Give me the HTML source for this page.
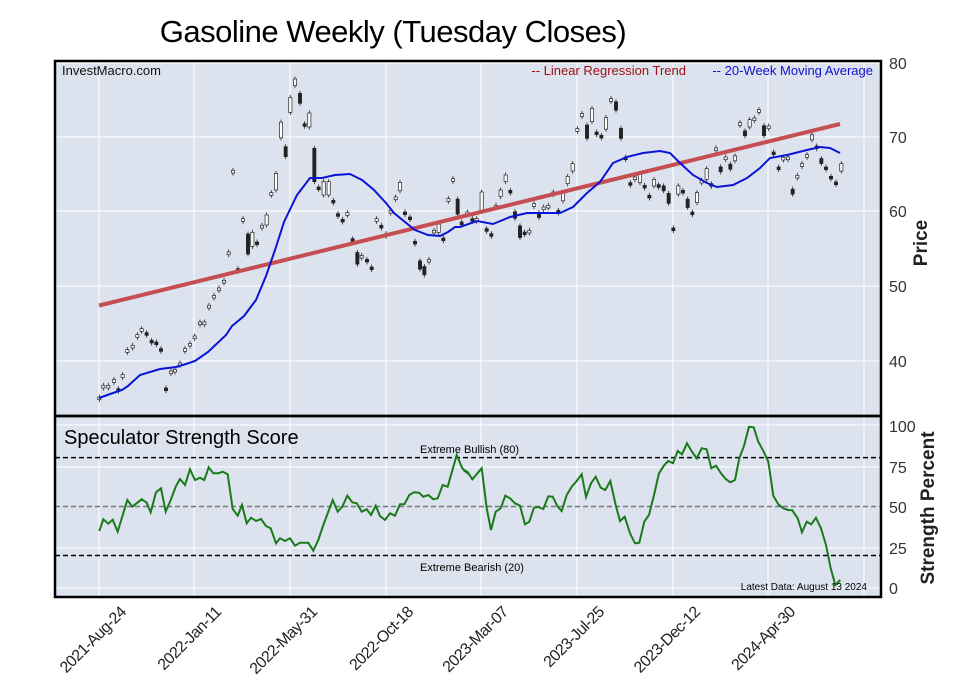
<!DOCTYPE html>
<html><head><meta charset="utf-8">
<style>
body{margin:0;background:#fff;width:957px;height:694px;overflow:hidden;font-family:"Liberation Sans",Arial,sans-serif;}
</style></head><body>
<svg id="s" width="957" height="694" xmlns="http://www.w3.org/2000/svg" font-family="Liberation Sans, Arial, sans-serif">
<rect x="55" y="61" width="826" height="536" fill="#dde3ee"/>
<g id="grid" stroke="#fff" stroke-width="1"></g>
<g id="cand"></g>
<line x1="99" y1="305.5" x2="840" y2="124" stroke="#c44e52" stroke-width="4"/>
<polyline id="ma" fill="none" stroke="#0a14d6" stroke-width="2"/>
<line x1="55" y1="457.6" x2="881" y2="457.6" stroke="#000" stroke-width="1.5" stroke-dasharray="5,3"/>
<line x1="55" y1="506.5" x2="881" y2="506.5" stroke="#777" stroke-width="1.5" stroke-dasharray="5,3"/>
<line x1="55" y1="555.5" x2="881" y2="555.5" stroke="#000" stroke-width="1.5" stroke-dasharray="5,3"/>
<polyline id="gr" fill="none" stroke="#1a7a1a" stroke-width="2"/>
<rect x="55" y="61" width="826" height="355" fill="none" stroke="#000" stroke-width="2.5"/>
<rect x="55" y="416" width="826" height="181" fill="none" stroke="#000" stroke-width="2.5"/>
<text x="393" y="42" font-size="31" text-anchor="middle" fill="#000" letter-spacing="-0.5">Gasoline Weekly (Tuesday Closes)</text>
<text x="62" y="75" font-size="13" fill="#111">InvestMacro.com</text>
<text x="686" y="75" font-size="13" fill="#a01010" text-anchor="end">-- Linear Regression Trend</text>
<text x="873" y="75" font-size="13" fill="#1010d0" text-anchor="end">-- 20-Week Moving Average</text>
<text x="64" y="444" font-size="20" fill="#000">Speculator Strength Score</text>
<text x="420" y="453" font-size="11" fill="#000">Extreme Bullish (80)</text>
<text x="420" y="571" font-size="11" fill="#000">Extreme Bearish (20)</text>
<text x="867" y="590" font-size="10" fill="#000" text-anchor="end">Latest Data: August 13 2024</text>
<g font-size="16" fill="#333">
<text x="889" y="69">80</text><text x="889" y="143">70</text><text x="889" y="217">60</text><text x="889" y="292">50</text><text x="889" y="367">40</text>
<text x="889" y="432">100</text><text x="889" y="473">75</text><text x="889" y="513">50</text><text x="889" y="554">25</text><text x="889" y="594">0</text>
</g>
<text transform="translate(927,243) rotate(-90)" font-size="19" font-weight="bold" text-anchor="middle" fill="#222">Price</text>
<text transform="translate(934,508) rotate(-90)" font-size="19" font-weight="bold" text-anchor="middle" fill="#222">Strength Percent</text>
<g id="xl" font-size="16" fill="#222" letter-spacing="-0.6"></g>
</svg>
<script>
var NS="http://www.w3.org/2000/svg";
function el(p,t,a){var e=document.createElementNS(NS,t);for(var k in a)e.setAttribute(k,a[k]);p.appendChild(e);return e;}
var g=document.getElementById('grid');
var xs=[99,194,290,386,481,577,673,768,864];
xs.forEach(function(x){el(g,'line',{x1:x,y1:61,x2:x,y2:597});});
[63,137,211,286,361].forEach(function(y){el(g,'line',{x1:55,y1:y,x2:881,y2:y});});
[425,467,548,588].forEach(function(y){el(g,'line',{x1:55,y1:y,x2:881,y2:y});});
var labs=["2021-Aug-24","2022-Jan-11","2022-May-31","2022-Oct-18","2023-Mar-07","2023-Jul-25","2023-Dec-12","2024-Apr-30"];
var xl=document.getElementById('xl');
labs.forEach(function(l,i){var t=el(xl,'text',{transform:'translate('+(xs[i]+28)+',613) rotate(-45)','text-anchor':'end'});t.textContent=l;});
var c1=[[178,1045],[190,1010],[205,1010],[222,993],[235,1020],[248,978],[262,903],[278,890],[292,858],[305,840],[320,852],[335,875],[349,880],[363,900],[378,1018],[393,967],[405,962],[420,943],[435,900],[450,884],[464,862],[480,820],[493,820],[507,770],[522,740],[537,718],[552,695],[566,610],[579,365],[594,660],[609,510],[624,582,60],[637,568,42],[651,580],[666,530],[680,510,30],[694,432],[708,395,50],[723,240,47],[737,305,30],[751,165,45],[765,97,20],[780,145,30],[794,225],[808,210,42],[823,345,100],[836,415],[851,415,40],[866,415,40],[880,455],[894,495],[908,512],[922,492],[938,570],[952,625,35],[965,620],[981,632],[995,655],[1010,510],[1024,530],[1038,555],[1052,485],[1067,445],[1080,410,25],[1095,490],[1110,505],[1125,578],[1140,645,25],[1153,662,25],[1167,632],[1182,545],[1196,535,25],[1210,568],[1225,450],[1239,390],[1253,470,45]];
var c2=[[5,520],[22,490],[37,510],[50,510],[65,455,58],[80,540],[94,555],[108,470],[122,430,20],[137,385,20],[151,425],[165,495,20],[180,545,35],[194,550],[208,545],[222,465],[237,495,15],[251,475],[265,470],[280,430],[295,485],[309,440,25],[323,390,22],[338,352,22],[352,240],[366,195],[381,245,40],[396,195,40],[410,250],[424,260],[438,220,35],[453,150],[468,168,25],[483,250,30],[497,325],[511,402],[525,385],[540,385,25],[554,410],[568,440],[582,398,20],[596,408],[611,415,15],[626,445,30],[640,538],[655,420,25],[669,425],[683,460,25],[697,490],[711,443,30],[725,395],[740,372,32],[754,405],[768,298],[782,358,15],[797,325],[811,350,15],[825,325,15],[840,222],[855,250,15],[869,220,22],[883,208],[897,183],[912,242,30],[926,232],[941,310],[956,355],[970,326],[984,325],[998,425,15],[1012,380],[1026,345],[1041,318],[1056,262,15],[1070,292],[1084,333,15],[1098,355],[1113,383],[1128,400],[1144,352,22]];
var pts=[];
c1.forEach(function(p){pts.push([40+p[0]/3,50+p[1]/3,(p[2]||8)/3]);});
c2.forEach(function(p){pts.push([460+p[0]/3,50+p[1]/3,(p[2]||8)/3]);});
var cg=document.getElementById('cand');
for(var i=0;i<pts.length;i++){var p=pts[i];var prev=i?pts[i-1][1]:p[1];var black=p[1]>prev; var h=Math.max(2.5,p[2]);
el(cg,'line',{x1:p[0],y1:p[1]-h/2-2.5,x2:p[0],y2:p[1]+h/2+2.5,stroke:'#222','stroke-width':0.8});
el(cg,'rect',{x:p[0]-1.6,y:p[1]-h/2,width:3.2,height:h,fill:black?'#222':'#fff',stroke:'#222','stroke-width':0.7});}
document.getElementById('ma').setAttribute('points',"99,398 113,393 122,390 128,386 140,375 160,369 176,367 186,364 195,361 208,352 226,335 232,326 244,316 256,300 266,276 275,250 284,222 297,195 310,178 322,178 335,175 350,174 362,180 374,190 386,203 394,213 405,222 415,230 428,235 440,236 448,232 455,227 460,227 477,221 493,224 510,217 527,213 543,213 560,213 573,207 587,193 600,182 613,163 627,157 643,153 660,151 670,153 680,163 693,175 707,183 717,187 733,185 747,178 760,168 770,158 787,155 807,150 820,147 830,148 840,153");
var g1=[[148,348],[160,313],[175,326],[188,314],[203,350],[232,255],[247,275],[275,253],[290,263],[302,292],[318,232],[333,220],[347,290],[362,255],[378,213],[390,192],[405,210],[420,163],[435,195],[450,188],[463,195],[476,157],[490,175],[505,175],[518,170],[533,178],[548,282],[563,302],[576,270],[590,325],[603,308],[618,318],[633,312],[648,333],[662,340],[678,385],[690,370],[705,378],[720,370],[735,392],[750,383],[775,383],[790,407],[805,375],[820,330],[848,255],[863,290],[877,275],[892,242],[907,262],[920,265],[935,290],[950,283],[963,300],[977,272],[990,303],[1005,315],[1020,295],[1035,302],[1050,268],[1063,268],[1078,240],[1092,232],[1107,233],[1120,245],[1135,240],[1150,253],[1163,250],[1178,210],[1193,215],[1220,120],[1237,160],[1260,180]];
var g2=[[10,165],[22,170],[37,193],[65,160],[80,280],[93,345],[107,290],[122,280],[136,242],[150,250],[165,265],[180,272],[195,328],[208,320],[222,278],[235,276],[250,282],[265,244],[278,245],[293,275],[305,288],[320,240],[335,215],[350,198],[365,178],[378,246],[393,205],[407,185],[422,218],[436,225],[451,198],[467,270],[480,318],[494,305],[510,355],[525,385],[538,383],[553,320],[567,300],[582,240],[597,175],[613,150],[625,138],[639,145],[653,108],[666,118],[681,85],[696,110],[710,130],[725,100],[740,103],[754,160],[768,152],[783,175],[797,192],[811,202],[825,195],[838,130],[852,93],[867,35],[881,37],[895,80],[911,110],[925,140],[940,242],[955,268],[970,280],[984,285],[997,286],[1013,310],[1026,352],[1040,320],[1054,328],[1068,308],[1083,340],[1098,390],[1112,460],[1126,510],[1141,495]];
var s=[];g1.forEach(function(p){s.push((50+p[0]/3).toFixed(1)+","+(415+p[1]/3).toFixed(1));});
g2.forEach(function(p){s.push((460+p[0]/3).toFixed(1)+","+(415+p[1]/3).toFixed(1));});
document.getElementById('gr').setAttribute('points',s.join(" "));
</script>
</body></html>
